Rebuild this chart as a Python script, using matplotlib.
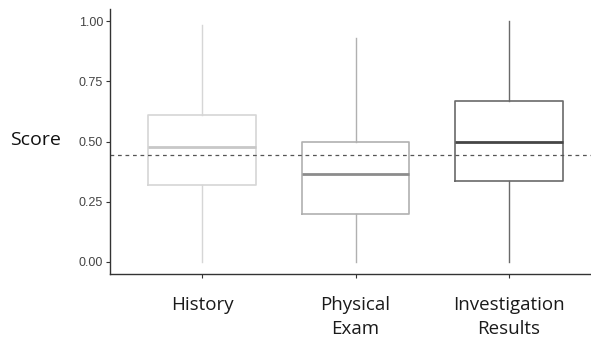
import matplotlib.pyplot as plt

# five-number summaries per section
categories = ["History", "Physical\nExam", "Investigation\nResults"]
whislo = [0.0, 0.0, 0.0]
q1 = [0.318, 0.199, 0.335]
med = [0.477, 0.364, 0.5]
q3 = [0.61, 0.5, 0.668]
whishi = [0.983, 0.928, 1.0]
overall_mean = 0.443

box_colors = ["#d6d6d6", "#b0b0b0", "#6a6a6a"]
median_colors = ["#c8c8c8", "#8c8c8c", "#454545"]

stats = []
for i in range(len(categories)):
    stats.append({"label": categories[i], "whislo": whislo[i], "q1": q1[i],
                  "med": med[i], "q3": q3[i], "whishi": whishi[i], "fliers": []})

fig = plt.figure(figsize=(5.91, 3.38), dpi=100)
ax = fig.add_axes([110 / 591, 64 / 338, 491 / 591, 265 / 338])

positions = [1, 2, 3]
for i in range(len(stats)):
    c = box_colors[i]
    ax.bxp([stats[i]], positions=[positions[i]], widths=0.7, showcaps=False,
           showfliers=False, patch_artist=False,
           boxprops=dict(color=c, linewidth=1.2),
           whiskerprops=dict(color=c, linewidth=1.0),
           medianprops=dict(color=median_colors[i], linewidth=2.0))

ax.axhline(overall_mean, color="#555555", linestyle=(0, (3, 3)), linewidth=0.9)

ax.set_xlim(0.4, 3.6)
ax.set_ylim(-0.05, 1.05)
ax.set_yticks([0, 0.25, 0.5, 0.75, 1.0])
ax.set_yticklabels(["0.00", "0.25", "0.50", "0.75", "1.00"],
                   fontfamily="Liberation Sans", fontsize=9, color="#444444")
ax.set_xticks(positions)
ax.set_xticklabels(categories, fontfamily="Open Sans", fontsize=13.5,
                   color="#1a1a1a", linespacing=1.4)
ax.tick_params(axis="x", length=3, pad=13, color="#333333")
ax.tick_params(axis="y", length=3, pad=2, color="#333333")
for side in ["top", "right"]:
    ax.spines[side].set_visible(False)
for side in ["left", "bottom"]:
    ax.spines[side].set_color("#333333")
    ax.spines[side].set_linewidth(1.0)

fig.text(10 / 591, 1 - 140 / 338, "Score", fontfamily="Open Sans",
         fontsize=14, color="#111111", va="center", ha="left")

fig.savefig("out.png", dpi=100)
